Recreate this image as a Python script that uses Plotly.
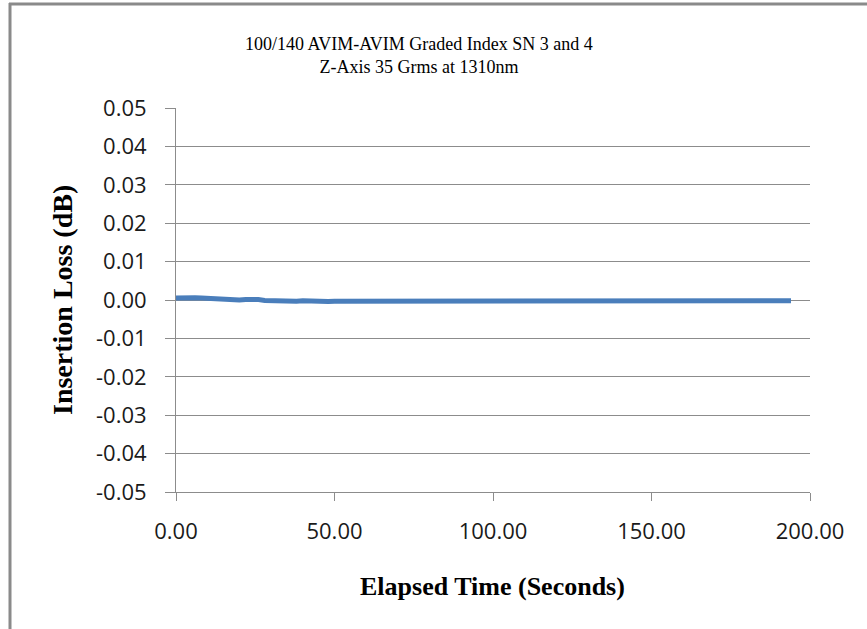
import plotly.graph_objects as go

# Data (insertion loss in units of 1e-4 dB)
time_s = [0, 2, 4, 6, 8, 10, 12, 14, 16, 18, 20, 22, 24, 26, 28, 30, 32, 34, 36, 38,
          40, 42, 44, 46, 48, 50, 52, 54, 56, 58, 60, 62, 64, 66, 68, 70, 72, 74, 76, 78,
          80, 82, 84, 86, 88, 90, 92, 94, 96, 98, 100, 102, 104, 106, 108, 110, 112, 114, 116, 118,
          120, 122, 124, 126, 128, 130, 132, 134, 136, 138, 140, 142, 144, 146, 148, 150, 152, 154, 156, 158,
          160, 162, 164, 166, 168, 170, 172, 174, 176, 178, 180, 182, 184, 186, 188, 190, 192, 194]
loss_e4 = [5, 6, 5, 6, 5, 4, 2, 1, 0, 1, 0, 1, 2, 1, -1, -2, -1, -3, -2, -3,
           -2, -3, -2, -3, -4, -3, -3, -2, -3, -4, -3, -2, -3, -3, -2, -3, -2, -3, -2, -3,
           -2, -1, -2, -3, -3, -2, -3, -4, -3, -2, -3, -2, -3, -2, -3, -3, -4, -3, -2, -3,
           -2, -3, -1, -3, -3, -2, -2, -3, -2, -3, -3, -2, -3, -2, -3, -3, -2, -3, -4, -3,
           -2, -3, -3, -2, -3, -4, -3, -3, -2, -3, -2, -3, -2, -3, -2, -3, -3, -2]
loss_db = [v * 1e-4 for v in loss_e4]

y_ticks = [0.05, 0.04, 0.03, 0.02, 0.01, 0.00, -0.01, -0.02, -0.03, -0.04, -0.05]
y_tick_labels = ["0.05", "0.04", "0.03", "0.02", "0.01", "0.00",
                 "-0.01", "-0.02", "-0.03", "-0.04", "-0.05"]
x_ticks = [0, 50, 100, 150, 200]
x_tick_labels = ["0.00", "50.00", "100.00", "150.00", "200.00"]

title_lines = ["100/140 AVIM-AVIM Graded Index SN 3 and 4", "Z-Axis 35 Grms at 1310nm"]
x_title = "Elapsed Time (Seconds)"
y_title = "Insertion Loss (dB)"

W, H = 867, 629
L, R, T, B = 176, 810, 108, 492


def px(xpix):
    return (xpix - L) / (R - L)


def py(ypix):
    return (B - ypix) / (B - T)


fig = go.Figure()
fig.add_trace(go.Scatter(x=time_s, y=loss_db, mode="lines",
                         line=dict(color="#4A7EBB", width=5), showlegend=False))

grid = "#8C8C8C"
tick_font = dict(family="Open Sans, Liberation Sans, sans-serif", size=22, color="#1A1A1A")

fig.update_layout(
    width=W, height=H,
    margin=dict(l=L, r=W - R, t=T, b=H - B),
    paper_bgcolor="white", plot_bgcolor="white",
    xaxis=dict(range=[0, 200], tickvals=x_ticks, ticktext=x_tick_labels,
               showgrid=False, zeroline=False, showline=True, linecolor=grid, linewidth=1,
               ticks="outside", ticklen=8, tickcolor=grid, tickfont=tick_font,
               ticklabelstandoff=12),
    yaxis=dict(range=[-0.05, 0.05], tickvals=y_ticks, ticktext=y_tick_labels,
               showgrid=True, gridcolor=grid, gridwidth=1, zeroline=False,
               showline=True, linecolor=grid, linewidth=1,
               ticks="outside", ticklen=10, tickcolor=grid, tickfont=tick_font,
               ticklabelstandoff=14),
    annotations=[
        dict(text=title_lines[0] + "<br>" + title_lines[1], xref="paper", yref="paper",
             x=px(419), y=py(55), xanchor="center", yanchor="middle", showarrow=False,
             font=dict(family="Liberation Serif, serif", size=18, color="#000000")),
        dict(text="<b>" + x_title + "</b>", xref="paper", yref="paper",
             x=px(492), y=py(586), xanchor="center", yanchor="middle", showarrow=False,
             font=dict(family="Liberation Serif, serif", size=26, color="#000000")),
        dict(text="<b>" + y_title + "</b>", xref="paper", yref="paper", textangle=-90,
             x=px(62), y=py(300), xanchor="center", yanchor="middle", showarrow=False,
             font=dict(family="Liberation Serif, serif", size=28, color="#000000")),
    ],
    shapes=[
        dict(type="line", xref="paper", yref="paper", x0=px(9), x1=px(W), y0=py(4), y1=py(4),
             line=dict(color="#8A8A8A", width=3)),
        dict(type="line", xref="paper", yref="paper", x0=px(10), x1=px(10), y0=py(3), y1=py(H),
             line=dict(color="#8A8A8A", width=3)),
    ],
)

fig.write_html("out.html")
